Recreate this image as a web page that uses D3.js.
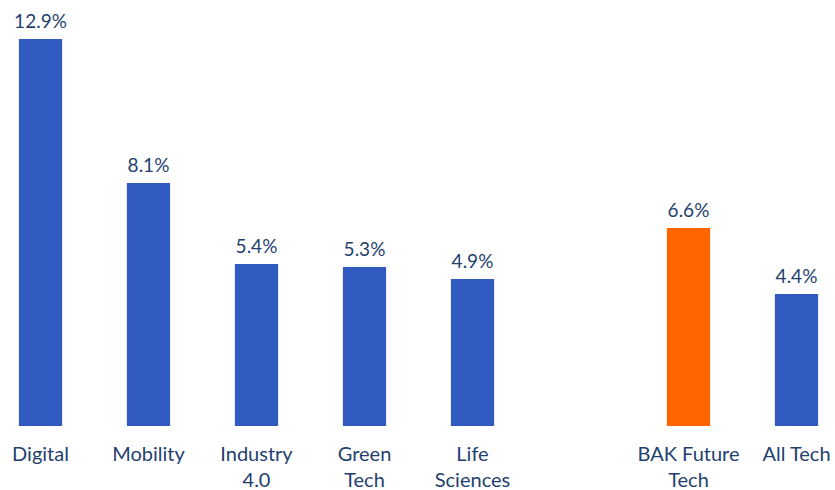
<!DOCTYPE html>
<html>
<head>
<meta charset="utf-8">
<script src="https://cdn.jsdelivr.net/npm/d3@7"></script>
<style>
  body { margin: 0; background: #fff; }
  text { font-family: Lato, "Open Sans", sans-serif; fill: #243f6e; }
</style>
</head>
<body>
<svg id="chart" width="835" height="490"></svg>
<script>
// categories, with an empty slot to make the gap before the totals
var categories = ["Digital", "Mobility", "Industry 4.0", "Green Tech", "Life Sciences", "", "BAK Future Tech", "All Tech"];
var catLines = [["Digital"], ["Mobility"], ["Industry", "4.0"], ["Green", "Tech"], ["Life", "Sciences"], [], ["BAK Future", "Tech"], ["All Tech"]];
var values = [12.9, 8.1, 5.4, 5.3, 4.9, null, 6.6, 4.4];
var highlight = "BAK Future Tech";

var svg = d3.select("#chart");

var x = d3.scaleBand()
  .domain(categories)
  .range([-13.5, 850.5])
  .paddingInner(0.6)
  .paddingOuter(0.3);

// baseline at 426, 12.9 reaches 39
var y = d3.scaleLinear().domain([0, 12.9]).range([426, 39]);

var data = categories.map(function(c, i) { return {cat: c, v: values[i], lines: catLines[i]}; });

svg.selectAll("rect.bar")
  .data(data.filter(function(d) { return d.v != null; }))
  .enter().append("rect")
  .attr("class", "bar")
  .attr("x", function(d) { return x(d.cat); })
  .attr("width", x.bandwidth())
  .attr("y", function(d) { return y(d.v); })
  .attr("height", function(d) { return y(0) - y(d.v); })
  .attr("fill", function(d) { return d.cat == highlight ? "#ff6600" : "#325bc2"; });

// value labels
svg.selectAll("text.val")
  .data(data.filter(function(d) { return d.v != null; }))
  .enter().append("text")
  .attr("class", "val")
  .attr("x", function(d) { return x(d.cat) + x.bandwidth() / 2; })
  .attr("y", function(d) { return y(d.v) - 11; })
  .attr("text-anchor", "middle")
  .attr("font-size", 19)
  .text(function(d) { return d.v.toFixed(1) + "%"; });

// category labels (wrapped)
var lab = svg.selectAll("text.cat")
  .data(data)
  .enter().append("text")
  .attr("class", "cat")
  .attr("text-anchor", "middle")
  .attr("font-size", 20)
  .attr("x", function(d) { return x(d.cat) + x.bandwidth() / 2; })
  .attr("y", 461);

lab.selectAll("tspan")
  .data(function(d) { return d.lines.map(function(l) { return {t: l, x: x(d.cat) + x.bandwidth() / 2}; }); })
  .enter().append("tspan")
  .attr("x", function(d) { return d.x; })
  .attr("dy", function(d, i) { return i == 0 ? 0 : 26; })
  .text(function(d) { return d.t; });
</script>
</body>
</html>
